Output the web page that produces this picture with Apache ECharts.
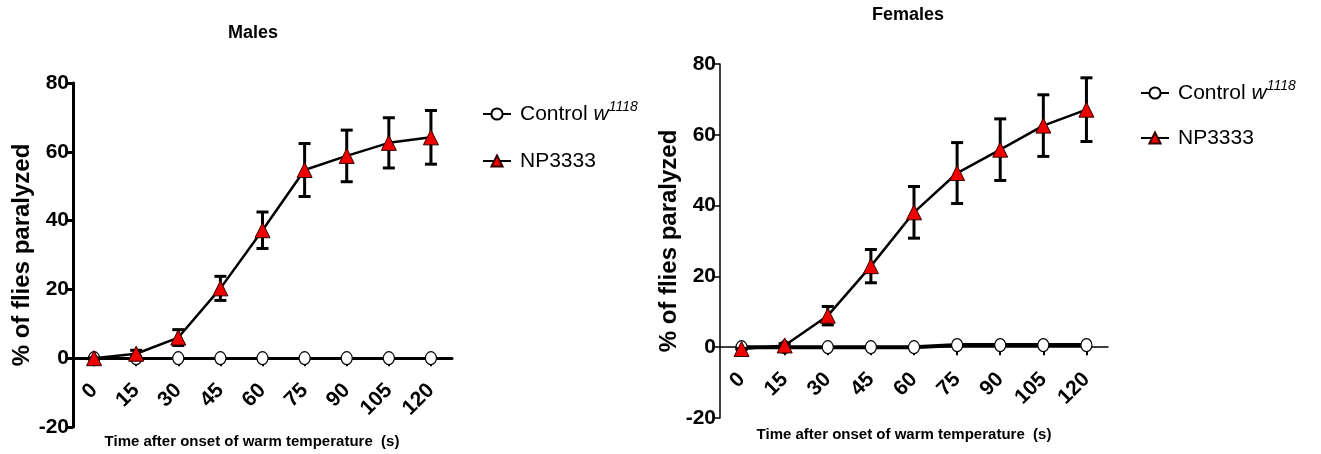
<!DOCTYPE html>
<html>
<head>
<meta charset="utf-8">
<script src="https://cdn.jsdelivr.net/npm/echarts@6/dist/echarts.min.js"></script>
<style>
html,body{margin:0;padding:0;background:#fff;}
#c{width:1321px;height:454px;}
</style>
</head>
<body>
<div id="c"></div>
<script>
const times = ['0','15','30','45','60','75','90','105','120'];
const yTicks = [-20, 0, 20, 40, 60, 80];
const maleControl = [0, 0, 0, 0, 0, 0, 0, 0, 0];
const maleNP = [0, 1.3, 6, 20.3, 37.2, 54.7, 58.8, 62.6, 64.2];
const maleErr = [0, 1, 2.3, 3.5, 5.3, 7.7, 7.5, 7.3, 7.8];
const femaleControl = [0, 0, 0, 0, 0, 0.6, 0.6, 0.6, 0.6];
const femaleNP = [-0.5, 0.5, 8.9, 22.9, 38.1, 49.2, 55.8, 62.6, 67.1];
const femaleErr = [0, 0.5, 2.6, 4.7, 7.3, 8.6, 8.7, 8.7, 9];

const Y_MIN = -20, Y_MAX = 80;
const SANS = "'Liberation Sans',Arial,sans-serif";
const CTRL = 'Control w1118';
const NP = 'NP3333';

const grids = [
  { left: 73, top: 83, width: 379, height: 344, outerBoundsMode: 'none', containLabel: false },
  { left: 720, top: 64, width: 388, height: 354, outerBoundsMode: 'none', containLabel: false }
];

function errData(vals, errs) {
  return vals.map((v, i) => [i, v - errs[i], v + errs[i]]);
}
function errRender(params, api) {
  const i = api.value(0);
  const lo = api.coord([i, api.value(1)]);
  const hi = api.coord([i, api.value(2)]);
  const cap = 6;
  const st = { stroke: '#000', lineWidth: 3 };
  return {
    type: 'group',
    children: [
      { type: 'line', shape: { x1: lo[0], y1: lo[1], x2: hi[0], y2: hi[1] }, style: st },
      { type: 'line', shape: { x1: lo[0] - cap, y1: lo[1], x2: lo[0] + cap, y2: lo[1] }, style: st },
      { type: 'line', shape: { x1: hi[0] - cap, y1: hi[1], x2: hi[0] + cap, y2: hi[1] }, style: st }
    ]
  };
}

function xAxisCfg(gi, w) {
  // place the axis on the zero line: shift it up from the grid bottom
  const off = -grids[gi].height * (0 - Y_MIN) / (Y_MAX - Y_MIN);
  return {
    type: 'category', gridIndex: gi, data: times, boundaryGap: true, offset: off,
    axisLine: { onZero: false, lineStyle: { color: '#000', width: w } },
    axisTick: { show: true, alignWithLabel: true, length: 8, lineStyle: { color: '#000', width: 2 } },
    axisLabel: { rotate: 45, margin: 29, color: '#000', fontFamily: SANS, fontWeight: 'bold', fontSize: 21 },
    splitLine: { show: false }
  };
}
function yAxisCfg(gi, w, gap) {
  return {
    type: 'value', gridIndex: gi, min: Y_MIN, max: Y_MAX, interval: 20,
    name: '% of flies paralyzed', nameLocation: 'middle', nameRotate: 90, nameGap: gap,
    nameTextStyle: { color: '#000', fontFamily: SANS, fontWeight: 'bold', fontSize: 24 },
    axisLine: { show: true, onZero: false, lineStyle: { color: '#000', width: w } },
    axisTick: { show: true, length: 7, lineStyle: { color: '#000', width: w } },
    axisLabel: { color: '#000', fontFamily: SANS, fontWeight: 'bold', fontSize: 21, margin: 4,
      formatter: v => yTicks.includes(v) ? String(v) : '' },
    splitLine: { show: false }
  };
}

const legendRich = {
  n: { fontFamily: SANS, fontSize: 21, color: '#000' },
  i: { fontFamily: SANS, fontSize: 21, fontStyle: 'italic', color: '#000' },
  s: { fontFamily: SANS, fontSize: 14, fontStyle: 'italic', color: '#000', verticalAlign: 'top', padding: [0, 0, 14, 0] }
};
function legendCfg(left, top, gap) {
  return {
    left: left, top: top, orient: 'vertical', itemWidth: 28, itemHeight: 14, itemGap: gap,
    data: [CTRL, NP],
    formatter: name => name === CTRL ? '{n|Control }{i|w}{s|1118}' : '{n|NP3333}',
    textStyle: { rich: legendRich, padding: [0, 0, 0, 4] }
  };
}

function lineSeries(name, xi, data, isNP, lw) {
  return {
    name: name, type: 'line', xAxisIndex: xi, yAxisIndex: xi, data: data,
    symbol: isNP ? 'triangle' : 'circle', symbolSize: isNP ? 15 : [11, 13],
    lineStyle: { color: '#000', width: lw },
    itemStyle: isNP ? { color: '#ee0000', borderColor: '#300', borderWidth: 1 } : { color: '#fff', borderColor: '#000', borderWidth: 1.2 },
    z: isNP ? 5 : 3,
    animation: false
  };
}

const chart = echarts.init(document.getElementById('c'), null, { renderer: 'canvas' });
chart.setOption({
  animation: false,
  backgroundColor: '#fff',
  grid: grids,
  xAxis: [xAxisCfg(0, 3), xAxisCfg(1, 1.5)],
  yAxis: [yAxisCfg(0, 3, 35), yAxisCfg(1, 1.5, 36)],
  legend: [legendCfg(477, 95, 26), legendCfg(1135, 74, 24)],
  graphic: [
    { type: 'text', x: 253, y: 33, style: { text: 'Males', textAlign: 'center', textVerticalAlign: 'middle', font: 'bold 18px ' + SANS, fill: '#000' } },
    { type: 'text', x: 908, y: 15, style: { text: 'Females', textAlign: 'center', textVerticalAlign: 'middle', font: 'bold 18px ' + SANS, fill: '#000' } },
    { type: 'text', x: 252, y: 442, style: { text: 'Time after onset of warm temperature  (s)', textAlign: 'center', textVerticalAlign: 'middle', font: 'bold 15px ' + SANS, fill: '#000' } },
    { type: 'text', x: 904, y: 435, style: { text: 'Time after onset of warm temperature  (s)', textAlign: 'center', textVerticalAlign: 'middle', font: 'bold 15px ' + SANS, fill: '#000' } }
  ],
  series: [
    lineSeries(CTRL, 0, maleControl, false, 2.5),
    { type: 'custom', xAxisIndex: 0, yAxisIndex: 0, data: errData(maleNP, maleErr), renderItem: errRender, z: 4, silent: true },
    lineSeries(NP, 0, maleNP, true, 2.5),
    lineSeries(CTRL, 1, femaleControl, false, 4),
    { type: 'custom', xAxisIndex: 1, yAxisIndex: 1, data: errData(femaleNP, femaleErr), renderItem: errRender, z: 4, silent: true },
    lineSeries(NP, 1, femaleNP, true, 2.5)
  ]
});
</script>
</body>
</html>
